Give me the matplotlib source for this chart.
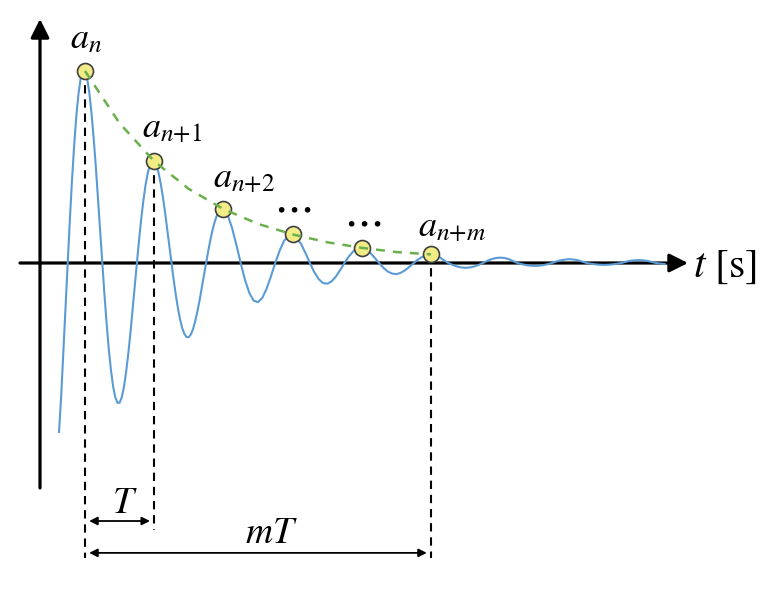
import numpy as np
import matplotlib.pyplot as plt

plt.rcParams['mathtext.fontset'] = 'stix'

# time in units of the period T (peak a_n at t = 0), amplitude relative to a_n
# finer steps over the tall first swings, coarser over the small tail
t_a = np.linspace(-0.375, 2.0, 77)
y_a = [-0.88, -0.692, -0.467, -0.233, 0.0, 0.224, 0.432, 0.614, 0.766, 0.882,
       0.961, 1.0,
       1.0, 0.961, 0.888, 0.783, 0.653, 0.504, 0.340, 0.170,
       0.0, -0.163, -0.314, -0.447, -0.557, -0.642, -0.699, -0.728,
       -0.728, -0.700, -0.647, -0.570, -0.475, -0.366, -0.247, -0.123,
       0.0, 0.119, 0.229, 0.325, 0.406, 0.467, 0.509, 0.530, 0.530,
       0.509, 0.471, 0.415, 0.346, 0.267, 0.180, 0.090,
       0.0, -0.086, -0.166, -0.237, -0.295, -0.340, -0.370, -0.386,
       -0.386, -0.371, -0.343, -0.302, -0.252, -0.194, -0.131, -0.065,
       0.0, 0.063, 0.121, 0.172, 0.215, 0.248, 0.270, 0.281, 0.281]
t_b = np.linspace(2.0625, 8.375, 102)
y_b = [0.250, 0.183, 0.095, 0.0, -0.088, -0.156, -0.196, -0.204,
       -0.182, -0.133, -0.069, 0.0, 0.064, 0.114, 0.143, 0.149,
       0.132, 0.097, 0.051, 0.0, -0.047, -0.083, -0.104, -0.108,
       -0.096, -0.071, -0.037, 0.0, 0.034, 0.060, 0.076, 0.079,
       0.070, 0.052, 0.027, 0.0, -0.025, -0.044, -0.055, -0.058,
       -0.051, -0.038, -0.020, 0.0, 0.018, 0.032, 0.040, 0.045,
       0.042, 0.030, 0.014, 0.0, -0.010, -0.018, -0.023, -0.025,
       -0.023, -0.018, -0.010, 0.0, 0.011, 0.020, 0.026, 0.028,
       0.026, 0.020, 0.010, 0.0, -0.006, -0.011, -0.014, -0.015,
       -0.014, -0.011, -0.006, 0.0, 0.008, 0.014, 0.018, 0.020,
       0.018, 0.014, 0.007, 0.0, -0.004, -0.007, -0.009, -0.010,
       -0.009, -0.007, -0.004, 0.0, 0.006, 0.011, 0.014, 0.015,
       0.014, 0.011, 0.006, 0.0, -0.003, -0.005]

peak_t = [0, 1, 2, 3, 4, 5]
peak_a = [1.0, 0.530, 0.281, 0.149, 0.079, 0.045]
env_t = [0, 0.5, 1, 1.5, 2, 2.5, 3, 3.5, 4, 4.5, 5]
env_a = [1.0, 0.728, 0.530, 0.386, 0.281, 0.204, 0.149, 0.108, 0.079, 0.057, 0.045]
peak_labels = [r'$a_{n}$', r'$a_{n{+}1}$', r'$a_{n{+}2}$', r'$a_{n{+}m}$']

t = np.concatenate([t_a, t_b])
y = np.concatenate([y_a, y_b])

fig = plt.figure(figsize=(7.68, 5.93), dpi=100)
ax = fig.add_axes([0, 0, 1, 1])
ax.set_xlim(-1.228, 9.870)
ax.set_ylim(-1.719, 1.370)
ax.axis('off')

# axes with arrows
ax.annotate('', xy=(8.714, 0), xytext=(-0.939, 0),
            arrowprops=dict(arrowstyle='-|>', lw=2.3, color='k', mutation_scale=28,
                            shrinkA=0, shrinkB=0))
ax.annotate('', xy=(-0.650, 1.271), xytext=(-0.650, -1.172),
            arrowprops=dict(arrowstyle='-|>', lw=2.3, color='k', mutation_scale=28,
                            shrinkA=0, shrinkB=0))

# vertical dashed guides
ax.plot([0, 0], [1.0, -1.536], color='k', lw=1.5, dashes=(4, 2.8), zorder=2)
ax.plot([1, 1], [0.53, -1.391], color='k', lw=1.5, dashes=(4, 2.8), zorder=2)
ax.plot([5, 5], [0.045, -1.536], color='k', lw=1.5, dashes=(4, 2.8), zorder=2)

ax.plot(t, y, color='#5b9bd5', lw=1.5, zorder=3, solid_joinstyle='round')
ax.plot(peak_t, peak_a, 'o', ms=11.5, mfc='#f2ec86', mec='#404040', mew=1.2, zorder=4)
ax.plot(env_t, env_a, color='#6ab04c', lw=1.8, dashes=(3.6, 3.2), zorder=5)

# period arrows
ax.annotate('', xy=(1, -1.344), xytext=(0, -1.344),
            arrowprops=dict(arrowstyle='<|-|>', lw=1.3, color='k', mutation_scale=12,
                            shrinkA=3, shrinkB=3))
ax.annotate('', xy=(5, -1.51), xytext=(0, -1.51),
            arrowprops=dict(arrowstyle='<|-|>', lw=1.3, color='k', mutation_scale=12,
                            shrinkA=3, shrinkB=3))
ax.text(0.58, -1.25, r'$T$', fontsize=27, ha='center', va='center')
ax.text(2.70, -1.406, r'$mT$', fontsize=27, ha='center', va='center')

# labels
label_pos = [(-0.217, 1.120), (0.824, 0.656), (1.85, 0.396), (4.81, 0.141)]
for (lx, ly), s in zip(label_pos, peak_labels):
    ax.text(lx, ly, s, fontsize=26, ha='left', va='baseline')
ax.text(3.0, 0.290, r'$\cdots$', fontsize=32, ha='center', va='center')
ax.text(4.0, 0.218, r'$\cdots$', fontsize=32, ha='center', va='center')
ax.text(8.786, -0.073, r'$t\ \mathrm{[s]}$', fontsize=30, ha='left', va='baseline')

fig.savefig('out.png', dpi=100)
